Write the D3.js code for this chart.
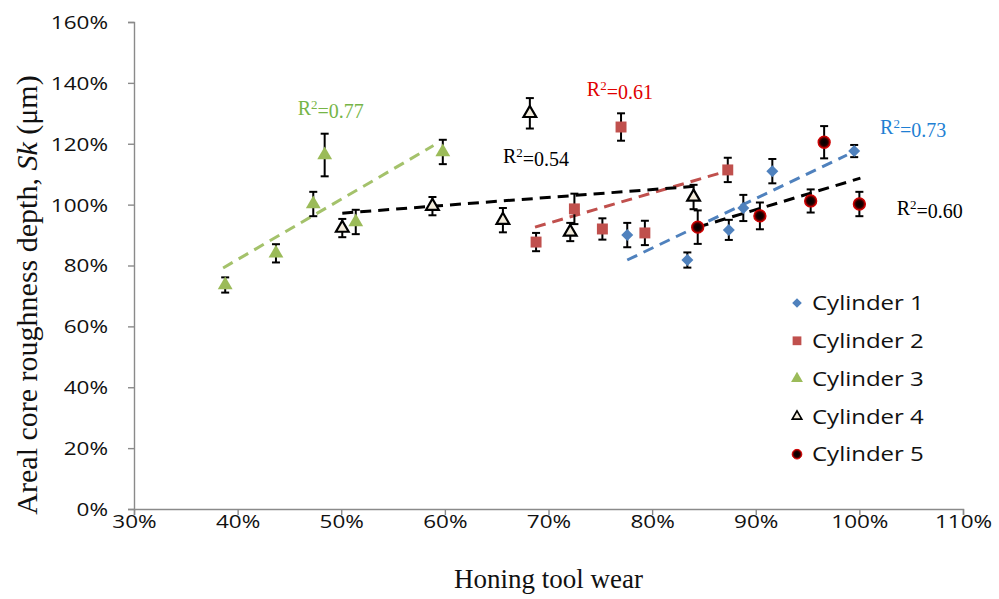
<!DOCTYPE html>
<html>
<head>
<meta charset="utf-8">
<script src="https://cdn.jsdelivr.net/npm/d3@7"></script>
<style>
  body { margin: 0; background: #fff; }
  svg { display: block; }
</style>
</head>
<body>
<div id="chart"></div>
<script>
// Honing tool wear vs Sk, five cylinders
const seriesNames = ["Cylinder 1", "Cylinder 2", "Cylinder 3", "Cylinder 4", "Cylinder 5"];

const cyl1X = [77.6, 83.4, 87.4, 88.8, 91.6, 99.5];
const cyl1Y = [90.0, 81.8, 91.7, 98.9, 111.0, 117.6];
const cyl1Err = [4, 2.5, 3.3, 4.3, 4, 2];

const cyl2X = [68.8, 72.5, 75.2, 77.0, 79.3, 87.3];
const cyl2Y = [87.7, 98.6, 92.0, 125.5, 90.7, 111.4];
const cyl2Err = [3, 5, 3.5, 4.5, 4, 4];

const cyl3X = [38.8, 43.7, 47.3, 48.4, 51.4, 59.8];
const cyl3Y = [73.6, 84.0, 100.2, 116.3, 94.3, 117.3];
const cyl3Err = [2.5, 3, 4, 7, 4, 4];

const cyl4X = [50.1, 58.8, 65.6, 68.2, 72.1, 84.0];
const cyl4Y = [92.3, 99.5, 94.9, 130.0, 91.0, 102.5];
const cyl4Err = [3, 3, 4, 5, 3, 4];

const cyl5X = [84.4, 90.4, 95.3, 96.6, 100.0];
const cyl5Y = [92.6, 96.3, 101.2, 120.5, 100.2];
const cyl5Err = [5.5, 4.4, 3.8, 5.3, 4];

// trend line end points [x, y]
const trend1 = [[77.6, 81.8], [98.8, 116.3]];
const trend2 = [[68.7, 92.6], [86.9, 110.7]];
const trend3 = [[38.6, 79.2], [58.9, 119.4]];
const trend4 = [[50.1, 97.2], [84.4, 106.1]];
const trend5 = [[84.4, 92.6], [100.1, 108.7]];

const r2Labels = ["0.73", "0.61", "0.77", "0.54", "0.60"];
const r2Pos = [[102.0, 123.2], [73.7, 135.7], [45.8, 129.4], [65.6, 113.7], [103.6, 96.6]];

const xTicks = [30, 40, 50, 60, 70, 80, 90, 100, 110];
const yTicks = [0, 20, 40, 60, 80, 100, 120, 140, 160];

const width = 999, height = 599;
const margin = { top: 22, right: 36, bottom: 90, left: 134 };

const svg = d3.select("#chart").append("svg")
  .attr("width", width)
  .attr("height", height);

const x = d3.scaleLinear().domain([30, 110]).range([margin.left, width - margin.right]);
const y = d3.scaleLinear().domain([0, 160]).range([height - margin.bottom, margin.top]);

const defs = svg.append("defs");
const grad = defs.append("radialGradient").attr("id", "dotgrad");
grad.append("stop").attr("offset", "0%").attr("stop-color", "#000");
grad.append("stop").attr("offset", "55%").attr("stop-color", "#1a0000");
grad.append("stop").attr("offset", "100%").attr("stop-color", "#c00000");

const axisColor = "#8a8a8a";
const tickFont = "'Open Sans', 'Liberation Sans', sans-serif";

// axes
const xAxis = svg.append("g")
  .attr("transform", `translate(0,${y(0)})`)
  .call(d3.axisBottom(x).tickValues(xTicks).tickSize(6).tickFormat(d => d + "%"));
const yAxis = svg.append("g")
  .attr("transform", `translate(${x(30)},0)`)
  .call(d3.axisLeft(y).tickValues(yTicks).tickSize(6).tickFormat(d => d + "%"));

[xAxis, yAxis].forEach(g => {
  g.selectAll("path, line").attr("stroke", axisColor).attr("stroke-width", 1.4);
  g.selectAll("text")
    .attr("fill", "#111")
    .style("font-family", tickFont)
    .style("font-size", "18px");
});
xAxis.selectAll("text")
  .attr("y", 0).attr("dy", 0)
  .attr("transform", "translate(0,19) scale(1.25,1)");
yAxis.selectAll("text")
  .attr("x", 0).attr("dy", "0.36em")
  .attr("transform", "translate(-26,0) scale(1.25,1)");

// axis titles
svg.append("text")
  .attr("x", x(70))
  .attr("y", 588)
  .attr("text-anchor", "middle")
  .style("font-family", "'Liberation Serif', 'Times New Roman', serif")
  .style("font-size", "27px")
  .attr("fill", "#111")
  .text("Honing tool wear");

const yTitle = svg.append("text")
  .attr("transform", "translate(37,295) rotate(-90)")
  .attr("text-anchor", "middle")
  .style("font-family", "'Liberation Serif', 'Times New Roman', serif")
  .style("font-size", "30px")
  .attr("fill", "#111");
yTitle.append("tspan").text("Areal core roughness depth, ");
yTitle.append("tspan").style("font-style", "italic").text("Sk");
yTitle.append("tspan").text(" (\u03bcm)");

// series
const series = [
  { xs: cyl1X, ys: cyl1Y, err: cyl1Err, trend: trend1, kind: "diamond", fill: "#4f81bd", stroke: "none", line: "#4f81bd", label: "#1f7fd3" },
  { xs: cyl2X, ys: cyl2Y, err: cyl2Err, trend: trend2, kind: "square", fill: "#c0504d", stroke: "none", line: "#c0504d", label: "#e00000" },
  { xs: cyl3X, ys: cyl3Y, err: cyl3Err, trend: trend3, kind: "triangle", fill: "#9bbb59", stroke: "none", line: "#a4c26b", label: "#76b547" },
  { xs: cyl4X, ys: cyl4Y, err: cyl4Err, trend: trend4, kind: "opentri", fill: "#f3ecdc", stroke: "#000", line: "#000", label: "#000" },
  { xs: cyl5X, ys: cyl5Y, err: cyl5Err, trend: trend5, kind: "dot", fill: "url(#dotgrad)", stroke: "#d00000", line: "#000", label: "#000" }
];

function symbolPath(kind) {
  if (kind === "diamond") return d3.symbol(d3.symbolSquare, 72)();
  if (kind === "square") return d3.symbol(d3.symbolSquare, 120)();
  if (kind === "triangle") return d3.symbol(d3.symbolTriangle, 95)();
  if (kind === "opentri") return d3.symbol(d3.symbolTriangle, 70)();
  return d3.symbol(d3.symbolCircle, 115)();
}
const symbolRot = kind => kind === "diamond" ? " rotate(45)" : "";

const line = d3.line().x(d => x(d[0])).y(d => y(d[1]));

// trend lines under the markers
series.forEach(s => {
  svg.append("path")
    .attr("d", line(s.trend))
    .attr("fill", "none")
    .attr("stroke", s.line)
    .attr("stroke-width", 3)
    .attr("stroke-dasharray", "11,7");
});

series.forEach(s => {
  const pts = s.xs.map((v, i) => ({ x: v, y: s.ys[i], e: s.err[i] }));
  const g = svg.append("g");

  const eb = g.selectAll("g.eb").data(pts).enter().append("g")
    .attr("stroke", "#000").attr("stroke-width", 2);
  eb.append("line")
    .attr("x1", d => x(d.x)).attr("x2", d => x(d.x))
    .attr("y1", d => y(d.y + d.e)).attr("y2", d => y(d.y - d.e));
  eb.append("line")
    .attr("x1", d => x(d.x) - 4).attr("x2", d => x(d.x) + 4)
    .attr("y1", d => y(d.y + d.e)).attr("y2", d => y(d.y + d.e));
  eb.append("line")
    .attr("x1", d => x(d.x) - 4).attr("x2", d => x(d.x) + 4)
    .attr("y1", d => y(d.y - d.e)).attr("y2", d => y(d.y - d.e));

  g.selectAll("path.mk").data(pts).enter().append("path")
    .attr("d", symbolPath(s.kind))
    .attr("transform", d => `translate(${x(d.x)},${y(d.y)})` + symbolRot(s.kind))
    .attr("fill", s.fill)
    .attr("stroke", s.stroke)
    .attr("stroke-width", s.kind === "opentri" ? 2.2 : 1.2);
});

// R² labels
series.forEach((s, i) => {
  const t = svg.append("text")
    .attr("x", x(r2Pos[i][0]))
    .attr("y", y(r2Pos[i][1]))
    .style("font-family", "'Liberation Serif', 'Times New Roman', serif")
    .style("font-size", "20px")
    .attr("fill", s.label);
  t.append("tspan").text("R");
  t.append("tspan").attr("dy", "-0.45em").style("font-size", "13px").text("2");
  t.append("tspan").attr("dy", "0.45em").text("=" + r2Labels[i]);
});

// legend
const legend = svg.append("g").attr("transform", "translate(797,303)");
seriesNames.forEach((name, i) => {
  const s = series[i];
  const row = legend.append("g").attr("transform", `translate(0,${i * 37.8})`);
  row.append("path")
    .attr("d", symbolPath(s.kind))
    .attr("transform", (s.kind === "opentri" ? "scale(0.75)" : "scale(0.8)") + symbolRot(s.kind))
    .attr("fill", s.fill)
    .attr("stroke", s.stroke)
    .attr("stroke-width", s.kind === "opentri" ? 2.2 : 1.2);
  row.append("text")
    .attr("transform", "translate(15,0) scale(1.2,1)")
    .attr("dy", "0.36em")
    .style("font-family", tickFont)
    .style("font-size", "20px")
    .attr("fill", "#111")
    .text(name);
});
</script>
</body>
</html>
